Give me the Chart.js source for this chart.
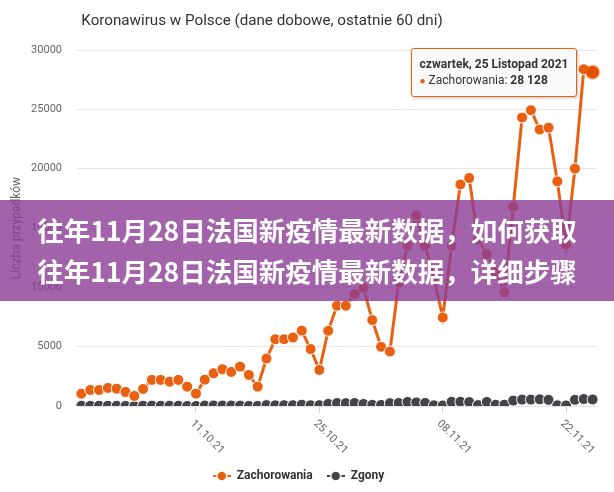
<!DOCTYPE html>
<html>
<head>
<meta charset="utf-8">
<script src="https://cdn.jsdelivr.net/npm/chart.js@4"></script>
<style>
  body { margin: 0; background: #fff; }
  #wrap { position: relative; width: 614px; height: 492px; overflow: hidden; }
  #title { position: absolute; left: 0; top: 11px; width: 524px; text-align: center;
    font: 15.2px Roboto, sans-serif; color: #333; }
  #tip { position: absolute; display: none; background: rgba(250,250,250,0.95);
    border: 1px solid #ea6011; border-radius: 3px; box-shadow: 1px 1px 3px rgba(0,0,0,0.25);
    padding: 7px 8px; font: 12px Roboto, sans-serif; color: #333; white-space: nowrap; line-height: 16px; }
  #banner { position: absolute; left: 0; top: 200px; width: 614px; height: 101px;
    background: rgba(140, 60, 150, 0.8); color: #fff; text-align: center;
    font: bold 26.5px "Noto Sans CJK SC", sans-serif; line-height: 41px; padding-top: 9px; box-sizing: border-box; }
</style>
</head>
<body>
<div id="wrap">
  <canvas id="chart" width="614" height="492"></canvas>
  <div id="title">Koronawirus w Polsce (dane dobowe, ostatnie 60 dni)</div>
  <div id="tip"></div>
  <div id="banner">往年11月28日法国新疫情最新数据，如何获取<br>往年11月28日法国新疫情最新数据，详细步骤</div>
</div>
<script>
// daty (28.09.21 - 25.11.21)
const dates = [
  '28.09.21', '29.09.21', '30.09.21',
  '01.10.21', '02.10.21', '03.10.21', '04.10.21', '05.10.21', '06.10.21', '07.10.21', '08.10.21',
  '09.10.21', '10.10.21', '11.10.21', '12.10.21', '13.10.21', '14.10.21', '15.10.21', '16.10.21',
  '17.10.21', '18.10.21', '19.10.21', '20.10.21', '21.10.21', '22.10.21', '23.10.21', '24.10.21',
  '25.10.21', '26.10.21', '27.10.21', '28.10.21', '29.10.21', '30.10.21', '31.10.21',
  '01.11.21', '02.11.21', '03.11.21', '04.11.21', '05.11.21', '06.11.21', '07.11.21', '08.11.21',
  '09.11.21', '10.11.21', '11.11.21', '12.11.21', '13.11.21', '14.11.21', '15.11.21', '16.11.21',
  '17.11.21', '18.11.21', '19.11.21', '20.11.21', '21.11.21', '22.11.21', '23.11.21', '24.11.21',
  '25.11.21'
];
const shownDates = ['11.10.21', '25.10.21', '08.11.21', '22.11.21'];

const zachorowania = [
  1040, 1350, 1350, 1520, 1460, 1180, 845, 1440, 2200, 2200,
  2050, 2200, 1630, 1040, 2220, 2760, 3100, 2870, 3320, 2620,
  1630, 4000, 5630, 5630, 5770, 6350, 4800, 3040, 6340, 8450,
  8450, 9440, 9950, 7240, 4990, 4590, 10400, 13500, 16060, 13500,
  10800, 7460, 13500, 18670, 19210, 14000, 12800, 11300, 9580, 16800,
  24310, 24930, 23300, 23460, 18930, 13600, 20000, 28380, 28128
];
const zgony = [
  23, 18, 26, 21, 19, 8, 2, 27, 33, 21,
  29, 19, 7, 3, 40, 48, 42, 41, 39, 12,
  4, 75, 54, 68, 72, 110, 60, 70, 180, 250,
  240, 250, 170, 100, 90, 240, 250, 340, 300, 260,
  60, 50, 350, 360, 330, 80, 340, 100, 110, 460,
  540, 540, 560, 520, 60, 50, 520, 590, 550
];
const yTicks = [0, 5000, 10000, 15000, 20000, 25000, 30000];

const activeIndex = 58;
const activeTitle = 'czwartek, 25 Listopad 2021';

const ORANGE = '#ea6011';
const DARK = '#434348';

function fmt(v) {
  return String(v).replace(/\B(?=(\d{3})+(?!\d))/g, ' ');
}

// symbol legendy: kreska + kółko
function legendSymbol(color) {
  const c = document.createElement('canvas');
  c.width = 18; c.height = 12;
  const g = c.getContext('2d');
  g.strokeStyle = color;
  g.lineWidth = 2;
  g.beginPath(); g.moveTo(0, 6); g.lineTo(18, 6); g.stroke();
  g.beginPath(); g.arc(9, 6, 5, 0, Math.PI * 2);
  g.fillStyle = color; g.fill();
  g.strokeStyle = '#fff'; g.lineWidth = 1.5; g.stroke();
  return c;
}

// etykiety osi X obrócone w prawo (jak w oryginale)
const xLabelsPlugin = {
  id: 'xLabels',
  afterDraw(chart) {
    const sx = chart.scales.x;
    const ctx = chart.ctx;
    ctx.save();
    ctx.font = '11px Roboto, sans-serif';
    ctx.fillStyle = '#666';
    ctx.textAlign = 'left';
    ctx.textBaseline = 'middle';
    shownDates.forEach(d => {
      const i = dates.indexOf(d);
      const px = sx.getPixelForValue(i);
      ctx.save();
      ctx.translate(px - 4, sx.top + 16);
      ctx.rotate(Math.PI / 4);
      ctx.fillText(d, 0, 0);
      ctx.restore();
    });
    ctx.restore();
  }
};

function externalTooltip(context) {
  const tip = document.getElementById('tip');
  const t = context.tooltip;
  if (t.opacity === 0 || !t.dataPoints || !t.dataPoints.length) {
    tip.style.display = 'none';
    return;
  }
  const dp = t.dataPoints[0];
  tip.innerHTML = '<b>' + activeTitle + '</b><br>' +
    '<span style="color:' + ORANGE + ';font-size:10px">&#9679;</span> ' +
    dp.dataset.label + ': <b>' + fmt(dp.raw) + '</b>';
  tip.style.display = 'block';
  const w = tip.offsetWidth, h = tip.offsetHeight;
  tip.style.left = (t.caretX - w - 15) + 'px';
  tip.style.top = (t.caretY - h / 2) + 'px';
}

const chart = new Chart(document.getElementById('chart').getContext('2d'), {
  type: 'line',
  data: {
    labels: dates,
    datasets: [{
      label: 'Zachorowania',
      data: zachorowania,
      borderColor: ORANGE,
      backgroundColor: ORANGE,
      borderWidth: 3,
      pointRadius: 5.5,
      pointHoverRadius: 6.5,
      pointBackgroundColor: ORANGE,
      pointBorderColor: '#fff',
      pointBorderWidth: 1,
      pointHoverBorderColor: 'rgba(234,96,17,0.3)',
      pointHoverBorderWidth: 3,
      pointStyle: 'circle',
      tension: 0
    }, {
      label: 'Zgony',
      data: zgony,
      borderColor: DARK,
      backgroundColor: DARK,
      borderWidth: 3,
      pointRadius: 5.5,
      pointBackgroundColor: DARK,
      pointBorderColor: '#fff',
      pointBorderWidth: 1,
      pointStyle: 'circle',
      tension: 0
    }]
  },
  options: {
    responsive: false,
    animation: false,
    events: [],
    layout: { padding: { top: 50, right: 17, bottom: 0, left: 0 } },
    plugins: {
      title: { display: false },
      legend: {
        position: 'bottom',
        labels: {
          usePointStyle: true,
          pointStyleWidth: 18,
          boxHeight: 12,
          padding: 14,
          color: '#333',
          font: { family: 'Roboto', size: 12, weight: 'bold' },
          generateLabels(chart) {
            const items = Chart.defaults.plugins.legend.labels.generateLabels(chart);
            items.forEach(it => { it.pointStyle = legendSymbol(it.fillStyle); });
            return items;
          }
        }
      },
      tooltip: {
        enabled: false,
        mode: 'nearest',
        intersect: false,
        external: externalTooltip
      }
    },
    scales: {
      x: {
        offset: true,
        afterFit(scale) { scale.height = 50; },
        border: { display: false },
        grid: {
          offset: false,
          drawOnChartArea: false,
          drawTicks: true,
          tickLength: 7,
          color: ctx => shownDates.includes(dates[ctx.index]) ? '#ccd6eb' : 'rgba(0,0,0,0)'
        },
        ticks: { display: false, autoSkip: false }
      },
      y: {
        min: 0,
        max: 30000,
        afterFit(scale) { scale.width = 77; },
        afterBuildTicks(scale) { scale.ticks = yTicks.map(v => ({ value: v })); },
        border: { display: false },
        grid: { color: '#e6e6e6', drawTicks: false },
        ticks: {
          padding: 15,
          color: '#666',
          font: { family: 'Roboto', size: 11 },
          callback: v => String(v)
        },
        title: {
          display: true,
          text: 'Liczba przypadków',
          color: '#666',
          font: { family: 'Roboto', size: 12 },
          padding: { top: 10, bottom: 0 }
        }
      }
    }
  },
  plugins: [xLabelsPlugin]
});

// aktywny punkt z podpowiedzią (25.11.2021)
const meta = chart.getDatasetMeta(0);
const pt = meta.data[activeIndex];
chart.setActiveElements([{ datasetIndex: 0, index: activeIndex }]);
chart.tooltip.setActiveElements([{ datasetIndex: 0, index: activeIndex }], { x: pt.x, y: pt.y });
chart.update();
</script>
</body>
</html>
